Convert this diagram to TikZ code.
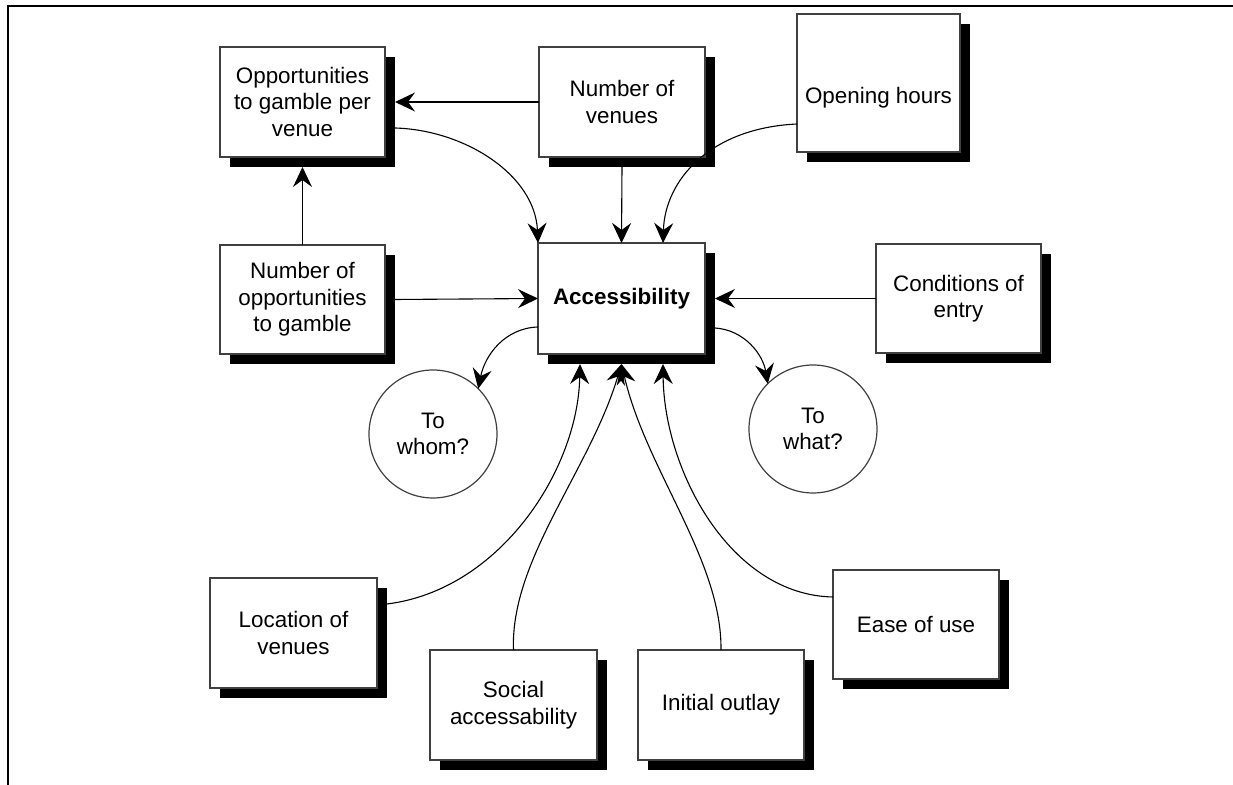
\documentclass[tikz,border=0pt]{standalone}
\usepackage{fontspec}
\setmainfont{Liberation Sans}
\usetikzlibrary{arrows.meta,shadows,calc}
\begin{document}
\begin{tikzpicture}[x=0.5pt,y=-0.5pt,
  >={Stealth[length=10pt,width=9.5pt,inset=3.5pt]},
  txt/.style={font=\fontsize{11.2}{13.25}\selectfont, align=center, inner sep=0pt},
  box/.style={txt, draw=black!75, line width=0.7pt, fill=white, outer sep=0pt,
    drop shadow={shadow xshift=5pt, shadow yshift=-5pt, fill=black, opacity=1}},
  bubble/.style={txt, circle, draw=black!75, line width=0.6pt, minimum size=64pt, outer sep=0pt},
  conn/.style={line width=0.55pt, ->},
  frame/.style={line width=1pt}]
\useasboundingbox (0,0) rectangle (1233,785);
\draw[frame] (8,785) -- (8,6) -- (1233,6);
% boxes
\node[box, minimum width=82.5pt, minimum height=55pt] (opp) at (302.5,102) {Opportunities\\to gamble per\\venue};
\node[box, minimum width=83pt, minimum height=55pt] (nven) at (622,102) {Number of\\venues};
\node[box, minimum width=81.5pt, minimum height=69pt] (open) at (878.5,83) {};
\node[txt] (opentxt) at (878.5,98) {Opening hours};
\node[box, minimum width=82.5pt, minimum height=54.5pt] (nopp) at (302.5,299.5) {Number of\\opportunities\\to gamble};
\node[box, minimum width=83.5pt, minimum height=55.5pt] (acc) at (621.5,298.5) {\textbf{Accessibility}};
\node[box, minimum width=82.5pt, minimum height=54.5pt] (cond) at (958.5,298.5) {Conditions of\\entry};
\node[bubble] (whom) at (433,434) {To\\whom?};
\node[bubble] (what) at (813,429) {To\\what?};
\node[box, minimum width=83.5pt, minimum height=55pt] (loc) at (293.5,633) {Location of\\venues};
\node[box, minimum width=83.5pt, minimum height=55pt] (soc) at (513.5,705) {Social\\accessability};
\node[box, minimum width=83pt, minimum height=55pt] (init) at (721,705) {Initial outlay};
\node[box, minimum width=83pt, minimum height=54.5pt] (ease) at (916,624.5) {Ease of use};
% connectors
\draw[conn] (nven.west) -- ($(opp.east)+(10,0)$);
\draw[conn] (nopp.north) -- ($(opp.south)+(0,10)$);
\draw[conn] ($(nopp.east)+(10,0)$) -- (acc.west);
\draw[conn] (cond.west) -- ($(acc.east)+(10,0)$);
\draw[conn] ($(nven.south)+(0,10)$) -- (acc.north);
\draw[conn] ($(opp.east)+(10,26)$) .. controls (465,130) and (535,175) .. (acc.north west);
\draw[conn] ($(open.west)+(0,41)$) .. controls (710,128) and (665,180) .. ($(acc.north)+(41.5,0)$);
\draw[conn] ($(acc.west)+(0,28.5)$) .. controls (505,328) and (485,355) .. (whom.45);
\draw[conn] ($(acc.east)+(10,29.5)$) .. controls (745,330) and (763,355) .. (what.135);
\draw[conn] ($(loc.east)+(10,-29)$) .. controls (500,590) and (578,470) .. ($(acc.south)+(-41.5,10)$);
\draw[conn] (soc.north) .. controls (510,560) and (590,470) .. ($(acc.south)+(0,10)$);
\draw[conn] (init.north) .. controls (722,560) and (646,470) .. ($(acc.south)+(0,10)$);
\draw[conn] ($(ease.west)+(0,-27.5)$) .. controls (730,595) and (664,470) .. ($(acc.south)+(41.5,10)$);
\end{tikzpicture}
\end{document}
